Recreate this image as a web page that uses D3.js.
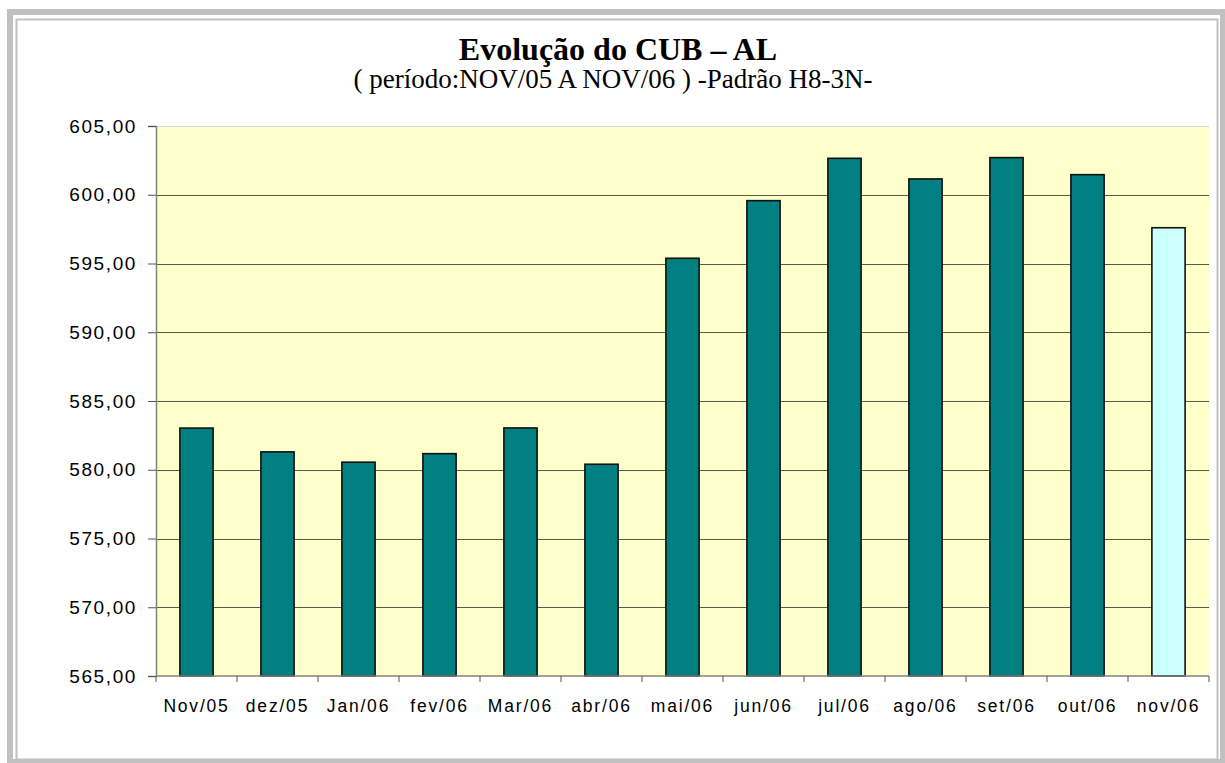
<!DOCTYPE html>
<html>
<head>
<meta charset="utf-8">
<script src="https://cdn.jsdelivr.net/npm/d3@7"></script>
<style>
  body { margin: 0; background: #fff; }
  svg { display: block; }
</style>
</head>
<body>
<svg width="1225" height="763"></svg>
<script>
// dados
let meses = ["Nov/05", "dez/05", "Jan/06", "fev/06", "Mar/06", "abr/06", "mai/06",
             "jun/06", "jul/06", "ago/06", "set/06", "out/06", "nov/06"];
let valores_cub = [583.03, 581.30, 580.55, 581.17, 583.04, 580.40, 595.38,
                   599.57, 602.65, 601.15, 602.70, 601.46, 597.60];
let ticks_y = [565, 570, 575, 580, 585, 590, 595, 600, 605];
let titulo = "Evolução do CUB – AL";
let subtitulo = "( período:NOV/05 A NOV/06 ) -Padrão H8-3N-";

// parametros
let area = { left: 156, top: 126, right: 1209, bottom: 676 };
let cor_barra = "#008080";
let cor_ultima = "#ccffff";

let svg = d3.select("svg");

// moldura
svg.append("rect")
  .attr("x", 10).attr("y", 12)
  .attr("width", 1213).attr("height", 750)
  .attr("fill", "none").attr("stroke", "#c0c0c0").attr("stroke-width", 6);
svg.append("rect")
  .attr("x", 16.5).attr("y", 19.5)
  .attr("width", 1201).attr("height", 740)
  .attr("fill", "none").attr("stroke", "#c0c0c0").attr("stroke-width", 2);

// titulos
svg.append("text")
  .attr("x", 618).attr("y", 60)
  .attr("text-anchor", "middle")
  .attr("font-family", "Liberation Serif, Times New Roman, serif")
  .attr("font-weight", "bold")
  .attr("font-size", 32)
  .text(titulo);
svg.append("text")
  .attr("x", 613).attr("y", 88)
  .attr("text-anchor", "middle")
  .attr("font-family", "Liberation Serif, Times New Roman, serif")
  .attr("font-size", 27)
  .text(subtitulo);

// escalas
let x = d3.scaleBand()
  .domain(meses)
  .range([area.left, area.right])
  .paddingInner(0.59)
  .paddingOuter(0.295);

let x_ticks = d3.scaleBand()
  .domain(meses)
  .range([area.left, area.right]);

let y = d3.scaleLinear()
  .domain([565, 605])
  .range([area.bottom, area.top]);

// fundo
svg.append("rect")
  .attr("x", area.left).attr("y", area.top)
  .attr("width", area.right - area.left)
  .attr("height", area.bottom - area.top)
  .attr("fill", "#ffffcc");

// grade
svg.append("g")
  .selectAll("line")
  .data(ticks_y.slice(1, -1))
  .join("line")
    .attr("x1", area.left).attr("x2", area.right)
    .attr("y1", d => Math.round(y(d)) + 0.5)
    .attr("y2", d => Math.round(y(d)) + 0.5)
    .attr("stroke", "#5a5a4a")
    .attr("stroke-width", 1.2);

svg.append("line")
  .attr("x1", area.left).attr("x2", area.right)
  .attr("y1", y(605) + 0.5).attr("y2", y(605) + 0.5)
  .attr("stroke", "#d8d8d8");

// barras
svg.append("g")
  .selectAll("rect")
  .data(meses)
  .join("rect")
    .attr("x", d => x(d))
    .attr("width", x.bandwidth())
    .attr("y", (d, i) => y(valores_cub[i]))
    .attr("height", (d, i) => y(565) - y(valores_cub[i]))
    .attr("fill", (d, i) => i == meses.length - 1 ? cor_ultima : cor_barra)
    .attr("stroke", "#111")
    .attr("stroke-width", 1.6);

// eixo y
let eixo_y = d3.axisLeft(y)
  .tickValues(ticks_y)
  .tickSize(8)
  .tickPadding(11)
  .tickFormat(d => d3.format(".2f")(d).replace(".", ","));

let gy = svg.append("g")
  .attr("transform", "translate(" + area.left + ",0)")
  .call(eixo_y);
gy.select(".domain").attr("stroke", "#808080").attr("stroke-width", 1.5);
gy.selectAll(".tick line").attr("stroke", "#555");
gy.selectAll(".tick text")
  .attr("font-family", "Liberation Sans, Arial, sans-serif")
  .attr("font-size", 19)
  .attr("letter-spacing", 1.6)
  .attr("fill", "#000");

// eixo x
let gx = svg.append("g")
  .attr("transform", "translate(0," + area.bottom + ")");

gx.append("line")
  .attr("x1", area.left).attr("x2", area.right)
  .attr("stroke", "#808080").attr("stroke-width", 1.5);

gx.selectAll("line.tick")
  .data(meses.concat(["fim"]))
  .join("line")
    .classed("tick", true)
    .attr("x1", (d, i) => i < meses.length ? x_ticks(d) : area.right)
    .attr("x2", (d, i) => i < meses.length ? x_ticks(d) : area.right)
    .attr("y1", 0).attr("y2", 6)
    .attr("stroke", "#555");

gx.selectAll("text")
  .data(meses)
  .join("text")
    .attr("x", d => x_ticks(d) + x_ticks.bandwidth() / 2)
    .attr("y", 36)
    .attr("text-anchor", "middle")
    .attr("font-family", "Liberation Sans, Arial, sans-serif")
    .attr("font-size", 17.5)
    .attr("letter-spacing", 1.8)
    .text(d => d);
</script>
</body>
</html>
